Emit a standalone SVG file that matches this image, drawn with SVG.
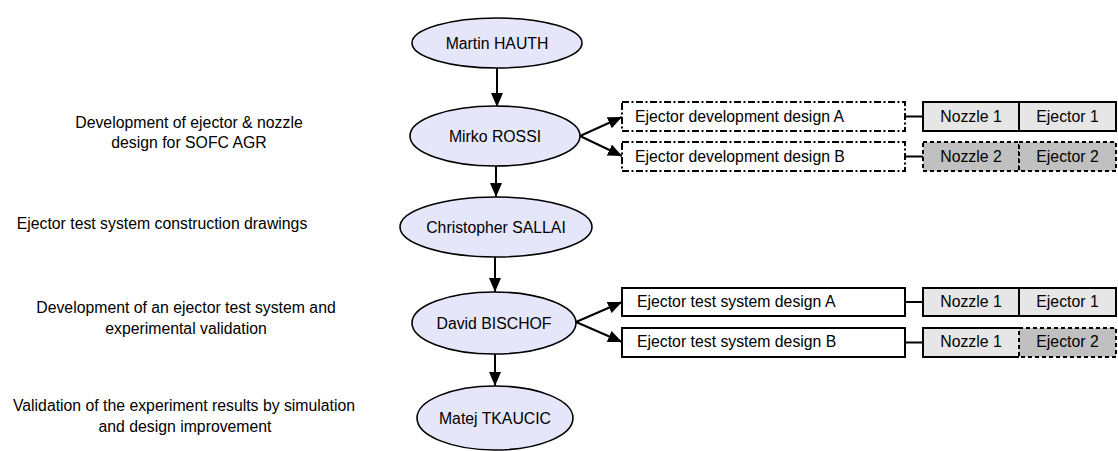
<svg xmlns="http://www.w3.org/2000/svg" width="1118" height="451" viewBox="0 0 1118 451">
  <defs>
    <marker id="arrow" markerUnits="userSpaceOnUse" markerWidth="14" markerHeight="12" refX="14" refY="6" orient="auto">
      <path d="M0,0 L14,6 L0,12 z" fill="#000"/>
    </marker>
    <style>
      text { font-family: "Liberation Sans", Arial, sans-serif; font-size: 15.8px; fill: #000; }
      .person ellipse { fill: #e6e6fa; stroke: #000; stroke-width: 1.6; }
      .person text, .part text { text-anchor: middle; }
      .note text { text-anchor: middle; }
      .edge { stroke: #000; stroke-width: 2; fill: none; }
      .edge.arrow { marker-end: url(#arrow); }
      .design rect { fill: #fff; stroke: #000; stroke-width: 2; }
      .design.planned rect { stroke-dasharray: 7 2.5 2 2.5; }
      .part .solid { fill: #e6e6e6; stroke: #000; stroke-width: 2; }
      .part .dashed { fill: #c0c0c0; stroke: #000; stroke-width: 2; stroke-dasharray: 4 3; }
      .part .bg1 { fill: #e6e6e6; }
    </style>
  </defs>

  <!-- task descriptions on the left -->
  <g id="notes" class="note">
    <text x="189" y="128">Development of ejector &amp; nozzle</text>
    <text x="189" y="148">design for SOFC AGR</text>
    <text x="162" y="229">Ejector test system construction drawings</text>
    <text x="186" y="313">Development of an ejector test system and</text>
    <text x="186" y="334">experimental validation</text>
    <text x="184" y="411">Validation of the experiment results by simulation</text>
    <text x="185" y="432">and design improvement</text>
  </g>

  <!-- connectors -->
  <g id="connectors">
    <line class="edge arrow" x1="497" y1="68" x2="497" y2="107"/>
    <line class="edge arrow" x1="496" y1="166" x2="496" y2="197"/>
    <line class="edge arrow" x1="495" y1="257" x2="495" y2="292"/>
    <line class="edge arrow" x1="495" y1="354" x2="495" y2="386"/>
    <line class="edge arrow" x1="580" y1="136" x2="622" y2="117"/>
    <line class="edge arrow" x1="580" y1="136" x2="622" y2="156"/>
    <line class="edge arrow" x1="576" y1="322" x2="622" y2="302"/>
    <line class="edge arrow" x1="576" y1="322" x2="622" y2="342"/>
    <line class="edge" x1="905" y1="116.5" x2="923" y2="116.5"/>
    <line class="edge" x1="905" y1="156.5" x2="923" y2="156.5"/>
    <line class="edge" x1="905" y1="302" x2="923" y2="302"/>
    <line class="edge" x1="905" y1="342.5" x2="923" y2="342.5"/>
  </g>

  <!-- people -->
  <g id="hauth" class="person">
    <ellipse cx="497" cy="43" rx="85" ry="25"/>
    <text x="497" y="48.5">Martin HAUTH</text>
  </g>
  <g id="rossi" class="person">
    <ellipse cx="495" cy="136" rx="85" ry="30"/>
    <text x="495" y="141.5">Mirko ROSSI</text>
  </g>
  <g id="sallai" class="person">
    <ellipse cx="496" cy="227" rx="96" ry="30"/>
    <text x="496" y="232.5">Christopher SALLAI</text>
  </g>
  <g id="bischof" class="person">
    <ellipse cx="494" cy="323" rx="82" ry="31"/>
    <text x="494" y="328.5">David BISCHOF</text>
  </g>
  <g id="tkaucic" class="person">
    <ellipse cx="495" cy="418" rx="78" ry="32"/>
    <text x="495" y="423.5">Matej TKAUCIC</text>
  </g>

  <!-- ejector development designs -->
  <g id="dev-design-a" class="design planned">
    <rect x="622" y="102" width="283" height="29"/>
    <text x="635" y="122">Ejector development design A</text>
  </g>
  <g id="dev-design-b" class="design planned">
    <rect x="622" y="142" width="283" height="29"/>
    <text x="635" y="162">Ejector development design B</text>
  </g>
  <g id="dev-a-parts" class="part">
    <rect class="solid" x="923" y="102" width="96" height="29"/>
    <rect class="solid" x="1019" y="102" width="97" height="29"/>
    <text x="971" y="122">Nozzle 1</text>
    <text x="1067.5" y="122">Ejector 1</text>
  </g>
  <g id="dev-b-parts" class="part">
    <rect class="dashed" x="923" y="142" width="96" height="29"/>
    <rect class="dashed" x="1019" y="142" width="97" height="29"/>
    <text x="971" y="162">Nozzle 2</text>
    <text x="1067.5" y="162">Ejector 2</text>
  </g>

  <!-- ejector test system designs -->
  <g id="test-design-a" class="design">
    <rect x="622" y="288" width="283" height="28"/>
    <text x="637" y="307">Ejector test system design A</text>
  </g>
  <g id="test-design-b" class="design">
    <rect x="622" y="328" width="283" height="29"/>
    <text x="637" y="347">Ejector test system design B</text>
  </g>
  <g id="test-a-parts" class="part">
    <rect class="solid" x="923" y="288" width="96" height="28"/>
    <rect class="solid" x="1019" y="288" width="97" height="28"/>
    <text x="971" y="307">Nozzle 1</text>
    <text x="1067.5" y="307">Ejector 1</text>
  </g>
  <g id="test-b-parts" class="part">
    <rect class="bg1" x="923" y="328" width="96" height="29"/>
    <path d="M1019,328 H923 V357 H1019" fill="none" stroke="#000" stroke-width="2"/>
    <rect class="dashed" x="1019" y="328" width="97" height="29"/>
    <text x="971" y="347">Nozzle 1</text>
    <text x="1067.5" y="347">Ejector 2</text>
  </g>
</svg>
